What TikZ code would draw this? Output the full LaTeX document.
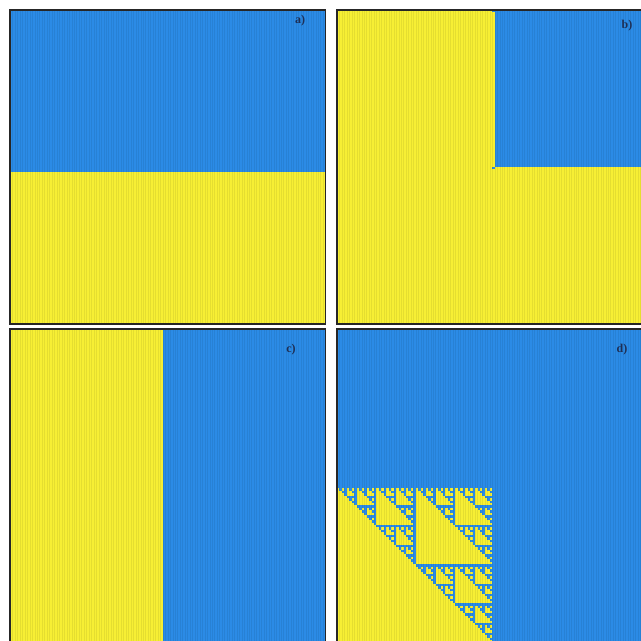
\documentclass[tikz,border=0pt]{standalone}
\usepackage{fontspec}
\setmainfont{Liberation Serif}
\definecolor{panelAzul}{HTML}{2B8BE6}
\definecolor{panelAmarillo}{HTML}{F7EF34}
\definecolor{panelMarco}{HTML}{262626}
\definecolor{panelTexto}{HTML}{1E2F55}
\tikzset{
	celdaAzul/.style={
		fill=panelAzul
	},
	celdaAmarilla/.style={
		fill=panelAmarillo
	},
	rejilla/.style={
		draw=black,
		draw opacity=0.07,
		line width=0.25pt
	},
	marco/.style={
		draw=panelMarco,
		line width=1.8pt
	},
	etiqueta/.style={
		text=panelTexto,
		font=\bfseries\fontsize{12}{14}\selectfont,
		inner sep=1pt
	},
	panel/.style={
		x=2.465pt,
		y=-2.45pt
	}
}
% blue cells of the triangle, offset (#1,#2), size #3
\newcommand\sierpinskiCeldas[3]{%
	\ifnum#3=1
		\fill[celdaAzul] ({63-#1},{64+#2}) rectangle ++(1,1);
	\else
		\begingroup
		\edef\mitad{\the\numexpr#3/2\relax}%
		\edef\siguiente{%
			\noexpand\sierpinskiCeldas{#1}{#2}{\mitad}%
			\noexpand\sierpinskiCeldas{\the\numexpr#1+\mitad\relax}{#2}{\mitad}%
			\noexpand\sierpinskiCeldas{#1}{\the\numexpr#2+\mitad\relax}{\mitad}}%
		\siguiente
		\endgroup
	\fi}
\begin{document}
\begin{tikzpicture}[x=1pt, y=-1pt]
	\useasboundingbox (0,0) rectangle (641,641);
	\clip (0,0) rectangle (641,641);
	% a)
	\begin{scope}[xshift=10pt, yshift=-10pt, panel]
		\fill[celdaAmarilla] (0,0) rectangle (128,128);
		\fill[celdaAzul] (0,0) rectangle (128,66);
		\draw[rejilla, step=1] (0,0) grid (128,128);
		\draw[marco] (0,0) rectangle (128,128);
	\end{scope}
	% b)
	\begin{scope}[xshift=337pt, yshift=-10pt, panel]
		\fill[celdaAmarilla] (0,0) rectangle (128,128);
		\fill[celdaAzul] (64,0) rectangle (128,64);
		\fill[celdaAzul] (63,0) rectangle (64,1);
		\fill[celdaAzul] (63,64) rectangle (64,65);
		\draw[rejilla, step=1] (0,0) grid (128,128);
		\draw[marco] (0,0) rectangle (128,128);
	\end{scope}
	% c)
	\begin{scope}[xshift=10pt, yshift=-329pt, panel]
		\fill[celdaAmarilla] (0,0) rectangle (128,128);
		\fill[celdaAzul] (62,0) rectangle (128,128);
		\draw[rejilla, step=1] (0,0) grid (128,128);
		\draw[marco] (0,0) rectangle (128,128);
	\end{scope}
	% d)
	\begin{scope}[xshift=337pt, yshift=-329pt, panel]
		\fill[celdaAzul] (0,0) rectangle (128,128);
		\fill[celdaAmarilla] (0,64) rectangle (64,128);
		\sierpinskiCeldas{0}{0}{64}
		\draw[rejilla, step=1] (0,0) grid (128,128);
		\draw[marco] (0,0) rectangle (128,128);
	\end{scope}
	\node[etiqueta] (etiquetaA) at (300,21) {a)};
	\node[etiqueta] (etiquetaB) at (627,26) {b)};
	\node[etiqueta] (etiquetaC) at (291,350) {c)};
	\node[etiqueta] (etiquetaD) at (622,350) {d)};
\end{tikzpicture}
\end{document}
